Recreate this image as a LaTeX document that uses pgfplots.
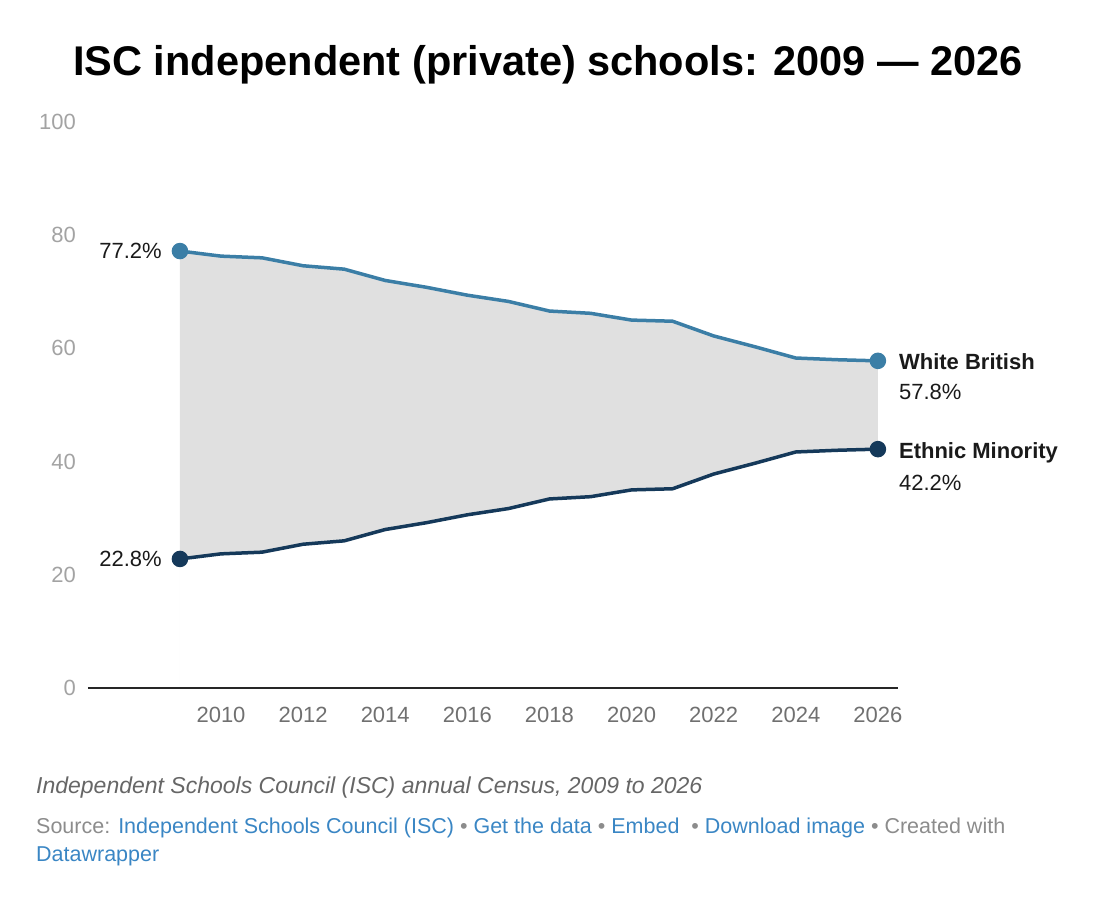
\documentclass[border=0pt]{standalone}
\usepackage{fontspec}
\setmainfont{Liberation Sans}
\usepackage{pgfplots}
\usepackage{pgfplotstable}
\pgfplotsset{compat=1.18}
\definecolor{wbc}{HTML}{3B7EA6}
\definecolor{emc}{HTML}{15395A}
\definecolor{fillg}{HTML}{E0E0E0}
\definecolor{ytickc}{HTML}{A3A3A3}
\definecolor{xtickc}{HTML}{707070}
\definecolor{linkc}{HTML}{3A86C4}
\definecolor{srcc}{HTML}{8C8C8C}
\definecolor{notec}{HTML}{666666}
\definecolor{txt}{HTML}{1A1A1A}

\pgfplotstableread{
year wb em
2009 77.2 22.8
2010 76.3 23.7
2011 76.0 24.0
2012 74.6 25.4
2013 74.0 26.0
2014 72.0 28.0
2015 70.8 29.2
2016 69.4 30.6
2017 68.3 31.7
2018 66.6 33.4
2019 66.2 33.8
2020 65.0 35.0
2021 64.8 35.2
2022 62.2 37.8
2023 60.3 39.7
2024 58.3 41.7
2025 58.0 42.0
2026 57.8 42.2
}\data

\begin{document}
\begin{tikzpicture}
\path[use as bounding box] (0pt,0pt) rectangle (1103pt,908pt);
\begin{axis}[
  at={(88pt,220pt)}, anchor=south west,
  scale only axis, width=810pt, height=566pt,
  xmin=2006.76, xmax=2026.49, ymin=0, ymax=100,
  clip=false,
  axis line style={draw=none},
  tick style={draw=none},
  /pgf/number format/assume math mode=true,
  /pgf/number format/1000 sep={},
  xtick={2010,2012,...,2026},
  ytick={0,20,...,100},
  xticklabel style={anchor=base, yshift=-35pt, text=xtickc, font=\fontsize{22}{26}\selectfont},
  yticklabel style={anchor=east, inner sep=0pt, xshift=-12pt, text=ytickc, font=\fontsize{22}{26}\selectfont},
]
\addplot[fill=fillg, draw=none, forget plot] table[x=year,y=wb]{\data} \closedcycle;
\addplot[fill=white, draw=white, line width=1pt, forget plot] table[x=year,y=em]{\data} \closedcycle;
\draw[color=black!85, line width=2pt] (rel axis cs:0,0) -- (rel axis cs:1,0);
\addplot[color=wbc, line width=3.5pt, line join=round, mark=*, mark indices={1,18}, mark size=6.5pt, mark options={fill=wbc, draw=none}] table[x=year,y=wb]{\data};
\addplot[color=emc, line width=3.5pt, line join=round, mark=*, mark indices={1,18}, mark size=6.5pt, mark options={fill=emc, draw=none}] table[x=year,y=em]{\data};
\node[anchor=east, inner sep=0pt, xshift=-18pt, text=txt, font=\fontsize{22}{26}\selectfont] at (axis cs:2009,77.2) {77.2\%};
\node[anchor=east, inner sep=0pt, xshift=-18pt, text=txt, font=\fontsize{22}{26}\selectfont] at (axis cs:2009,22.8) {22.8\%};
\node[anchor=base west, inner sep=0pt, xshift=21pt, yshift=-9pt, text=txt, font=\bfseries\fontsize{22}{26}\selectfont] at (axis cs:2026,57.8) {White British};
\node[anchor=base west, inner sep=0pt, xshift=21pt, yshift=-39pt, text=txt, font=\fontsize{22}{26}\selectfont] at (axis cs:2026,57.8) {57.8\%};
\node[anchor=base west, inner sep=0pt, xshift=21pt, yshift=-9pt, text=txt, font=\bfseries\fontsize{22}{26}\selectfont] at (axis cs:2026,42.2) {Ethnic Minority};
\node[anchor=base west, inner sep=0pt, xshift=21pt, yshift=-41pt, text=txt, font=\fontsize{22}{26}\selectfont] at (axis cs:2026,42.2) {42.2\%};
\end{axis}
\node[anchor=base, inner sep=0pt, font=\bfseries\fontsize{41.5}{48}\selectfont] at (548pt,832pt) {ISC independent (private) schools: 2009 — 2026};
\node[anchor=base west, inner sep=0pt, text=notec, font=\itshape\fontsize{23}{27}\selectfont] at (36pt,114pt) {Independent Schools Council (ISC) annual Census, 2009 to 2026};
\node[anchor=base west, inner sep=0pt, text=srcc, font=\fontsize{21.5}{25}\selectfont] at (36pt,75pt) {Source: \textcolor{linkc}{Independent Schools Council (ISC)} • \textcolor{linkc}{Get the data} • \textcolor{linkc}{Embed} \ • \textcolor{linkc}{Download image} • Created with};
\node[anchor=base west, inner sep=0pt, text=linkc, font=\fontsize{21.5}{25}\selectfont] at (36pt,47pt) {Datawrapper};
\end{tikzpicture}
\end{document}
